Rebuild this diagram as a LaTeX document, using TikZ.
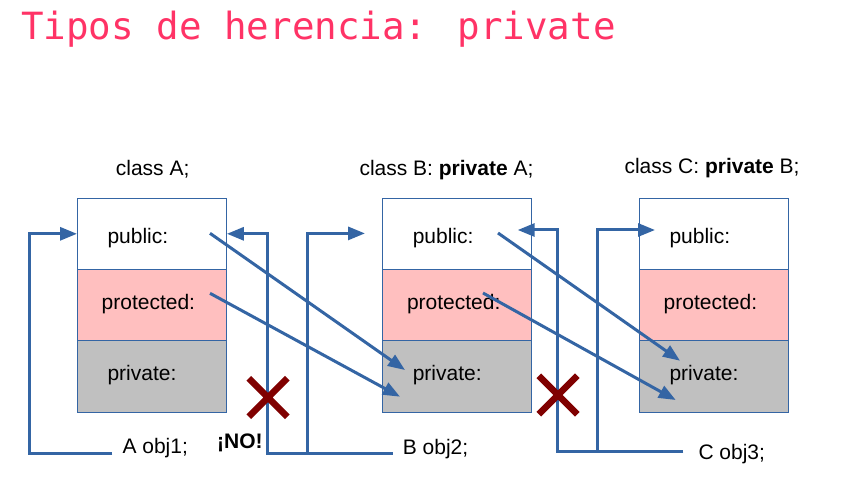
\documentclass[tikz,border=0pt]{standalone}
\usepackage{fontspec}
\setmainfont{Liberation Sans}
\newfontfamily\titlefont{DejaVu Sans Mono}
\usetikzlibrary{arrows.meta,shapes.misc}
\definecolor{wireblue}{HTML}{3465A4}
\definecolor{protpink}{HTML}{FFBFBF}
\definecolor{privgray}{HTML}{C0C0C0}
\definecolor{titlered}{HTML}{FF3366}
\definecolor{nored}{HTML}{800000}
\tikzset{
  sec/.style={draw=wireblue, line width=0.9pt, minimum width=149pt,
    minimum height=71.3pt, inner sep=0pt, anchor=north west},
  txt/.style={font=\fontsize{21}{25}\selectfont, inner sep=0pt, anchor=base west},
  wire/.style={draw=wireblue, line width=3pt},
  tip/.style={-{Triangle[length=17pt,width=13pt]}},
  nomark/.style={cross out, draw=nored, line width=6.5pt, minimum size=32pt, inner sep=0pt}
}
\begin{document}
\begin{tikzpicture}[x=1pt, y=-1pt]
  \useasboundingbox (0,0) rectangle (847,492);
  \node[font=\titlefont\fontsize{37.5}{40}\selectfont, text=titlered, inner sep=0pt,
    anchor=base west] (title) at (21,39.3) {Tipos de herencia: private};
  % the three classes
  \foreach \c/\x in {A/77,B/382.3,C/639} {
    \node[sec, fill=white] (\c pub) at (\x,197.7) {};
    \node[sec, fill=protpink] (\c prot) at (\x,269) {};
    \node[sec, fill=privgray] (\c priv) at (\x,340.3) {};
    \node[txt] (\c pubt) at (\x+30.3,243.3) {public:};
    \node[txt] (\c prott) at (\x+24.5,309.3) {protected:};
    \node[txt] (\c privt) at (\x+30.3,380) {private:};
  }
  \node[txt] (Ahead) at (115.7,176) {class A;};
  \node[txt] (Bhead) at (359.3,176) {class B: \textbf{private} A;};
  \node[txt] (Chead) at (624.3,173.3) {class C: \textbf{private} B;};
  \node[txt] (objA) at (122.3,453.3) {A obj1;};
  \node[txt] (objB) at (402.7,454) {B obj2;};
  \node[txt] (objC) at (698.3,459.3) {C obj3;};
  \node[txt] (no) at (217,448.3) {\textbf{¡NO!}};
  % inherited members
  \coordinate (Apubs) at (210,233.3);
  \coordinate (Aprots) at (210,293.3);
  \coordinate (Bpubs) at (498,233);
  \coordinate (Bprots) at (483,293);
  \coordinate (Bprive1) at (405,370);
  \coordinate (Bprive2) at (400,396.7);
  \coordinate (Cprive1) at (680,360.7);
  \coordinate (Cprive2) at (675.7,400);
  \draw[wire, tip] (Apubs) -- (Bprive1);
  \draw[wire, tip] (Aprots) -- (Bprive2);
  \draw[wire, tip] (Bpubs) -- (Cprive1);
  \draw[wire, tip] (Bprots) -- (Cprive2);
  % objects
  \coordinate (Bin) at (365,233.4);
  \coordinate (Bback) at (517.7,230);
  \coordinate (Cin) at (655,230);
  \coordinate (Aout) at ([xshift=-10pt]objA.base west);
  \coordinate (Bout) at ([xshift=-10pt, yshift=0.7pt]objB.base west);
  \coordinate (Cout) at ([xshift=-15pt, yshift=7.6pt]objC.base west);
  \draw[wire, tip] (Aout) -| ([xshift=-48pt]Apub.west) -- (Apub.west);
  \draw[wire, tip] (Bout) -| ([xshift=40.7pt]Apub.east) -- (Apub.east);
  \draw[wire, tip] ([xshift=-85pt]Bout) |- (Bin);
  \draw[wire, tip] (Cout) -| ([xshift=40pt]Bback) -- (Bback);
  \draw[wire, tip] ([xshift=-85.6pt]Cout) |- (Cin);
  \node[nomark] (noA) at (268,397.5) {};
  \node[nomark] (noB) at (558,395) {};
\end{tikzpicture}
\end{document}
